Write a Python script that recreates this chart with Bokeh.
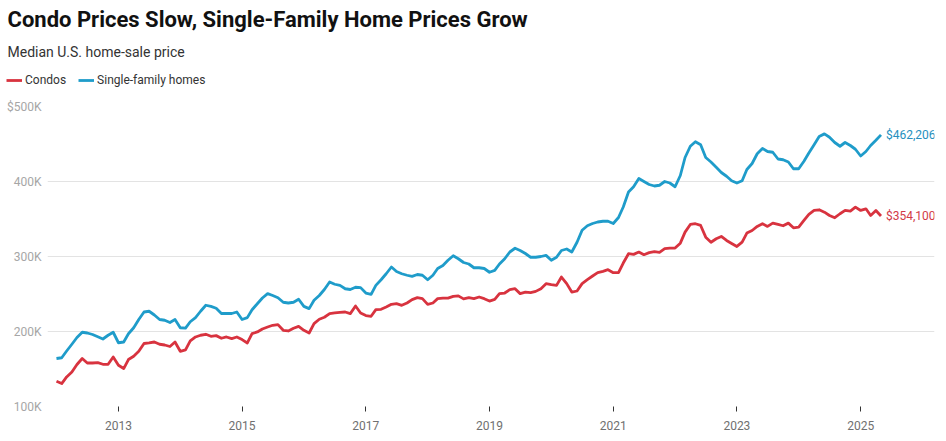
import pandas as pd
from bokeh.plotting import figure
from bokeh.layouts import column
from bokeh.models import (Range1d, FixedTicker, DatetimeTickFormatter, Legend,
                          LegendItem, Label, ColumnDataSource)
from bokeh.embed import file_html
from bokeh.resources import INLINE

# ---- data (monthly median sale price, $K, Jan 2012 .. May 2025) ----
first_month = "2012-01-01"
condos_k = [
    133.7, 130.6, 139.4, 146.0, 156.0, 164.0, 158.0, 158.0, 158.4, 156.3, 156.3, 166.0,
    155.0, 150.6, 162.6, 167.0, 173.6, 184.0, 184.7, 186.0, 183.0, 182.0, 180.0, 186.0,
    173.6, 175.5, 187.4, 192.7, 195.0, 196.3, 193.6, 194.5, 191.0, 192.7, 190.5, 192.7,
    189.2, 184.7, 197.2, 199.4, 203.4, 206.0, 208.3, 209.2, 201.6, 200.7, 204.3, 206.9,
    201.6, 198.0, 210.5, 216.3, 219.0, 223.8, 224.7, 225.6, 226.0, 223.8, 234.0, 224.7,
    221.2, 220.3, 229.1, 229.6, 232.6, 236.2, 237.1, 234.9, 238.0, 242.5, 245.1, 243.8,
    236.2, 238.0, 243.8, 244.6, 244.6, 246.9, 247.5, 243.5, 245.1, 243.8, 246.0, 243.8,
    240.6, 242.9, 250.5, 251.3, 255.8, 257.1, 250.5, 252.6, 251.8, 253.5, 257.1, 263.8,
    262.4, 261.5, 272.6, 263.8, 252.6, 254.0, 263.8, 269.1, 274.0, 278.5, 280.2, 282.4,
    278.4, 278.4, 291.3, 303.7, 302.8, 305.9, 302.4, 305.1, 306.4, 305.5, 310.4, 311.2,
    311.2, 317.8, 332.5, 342.7, 343.7, 341.4, 325.8, 319.0, 323.7, 326.8, 321.4, 317.4,
    313.4, 319.2, 331.2, 334.7, 340.1, 343.7, 340.1, 344.5, 342.7, 341.0, 344.5, 338.3,
    339.2, 348.1, 356.1, 361.4, 362.3, 359.1, 354.7, 351.7, 357.0, 361.4, 360.4, 365.8,
    361.4, 363.6, 354.7, 361.4, 354.1,
]
single_family_k = [
    164.0, 165.0, 174.0, 183.0, 192.0, 199.0, 198.0, 196.0, 193.0, 190.0, 195.0, 199.0,
    185.0, 186.0, 197.0, 205.0, 216.0, 226.0, 227.0, 222.0, 216.0, 215.0, 212.0, 216.0,
    205.0, 204.5, 213.0, 218.5, 227.0, 235.0, 233.5, 231.0, 224.0, 224.0, 224.0, 226.0,
    216.0, 218.5, 229.0, 237.0, 244.6, 250.5, 248.0, 245.0, 239.0, 238.0, 239.0, 243.0,
    233.5, 230.5, 241.6, 248.0, 256.0, 266.0, 263.0, 261.5, 257.0, 256.0, 259.0, 258.5,
    251.3, 249.5, 261.5, 269.0, 277.0, 286.0, 280.0, 277.0, 275.0, 273.5, 276.0, 275.0,
    269.0, 275.0, 284.0, 288.0, 295.0, 301.0, 297.0, 292.0, 290.0, 285.0, 285.0, 284.0,
    279.0, 281.5, 290.0, 297.0, 306.0, 311.0, 308.0, 304.0, 299.0, 299.0, 300.0, 301.5,
    295.0, 299.0, 308.0, 310.0, 306.0, 319.0, 335.0, 341.0, 344.0, 346.0, 347.0, 347.0,
    344.0, 352.0, 366.0, 386.0, 393.0, 404.0, 400.0, 396.0, 394.0, 395.0, 400.0, 398.0,
    393.0, 408.0, 432.0, 447.0, 453.0, 449.0, 432.0, 426.0, 419.0, 412.0, 407.0, 401.0,
    398.0, 401.0, 416.0, 424.0, 437.0, 444.0, 440.0, 439.0, 430.0, 429.0, 426.0, 417.0,
    417.0, 427.0, 438.0, 449.0, 460.0, 463.5, 459.0, 452.0, 447.0, 452.0, 448.0, 443.0,
    434.0, 440.0, 448.0, 455.0, 462.206,
]
series_names = ["Condos", "Single-family homes"]
end_labels = ["$354,100", "$462,206"]
title_text = "Condo Prices Slow, Single-Family Home Prices Grow"
subtitle_text = "Median U.S. home-sale price"
y_ticks = [100000, 200000, 300000, 400000, 500000]
y_tick_labels = ["100K", "200K", "300K", "400K", "$500K"]
x_tick_years = [2013, 2015, 2017, 2019, 2021, 2023, 2025]

RED = "#d8333f"
BLUE = "#1f9cca"
RED_TEXT = "#d23a47"
BLUE_TEXT = "#2690be"
FONT = "Roboto"
W = 946
HEAD_H = 94

dates = pd.date_range(first_month, periods=len(condos_k), freq="MS")
src = ColumnDataSource(dict(
    x=dates,
    condos=[v * 1000 for v in condos_k],
    sf=[v * 1000 for v in single_family_k],
))

# ---------------- header: title, subtitle, legend ----------------
head = figure(width=W, height=HEAD_H, output_backend="svg", toolbar_location=None,
              title=None, x_axis_location=None, y_axis_location=None,
              x_range=Range1d(0, W), y_range=Range1d(0, HEAD_H),
              min_border=0, min_border_left=0, min_border_right=0,
              min_border_top=0, min_border_bottom=0)
head.frame_align = False
head.outline_line_color = None
head.xgrid.visible = False
head.ygrid.visible = False
head.add_layout(Label(x=7, y=HEAD_H - 19, text=title_text, text_baseline="middle",
                      text_font=FONT, text_font_size="22px", text_font_style="bold",
                      text_color="#111111"))
head.add_layout(Label(x=7, y=HEAD_H - 51, text=subtitle_text, text_baseline="middle",
                      text_font=FONT, text_font_size="14px", text_color="#333333"))
# legend keys (the series lie far outside this header's ranges, so only the keys show)
h1 = head.line("x", "condos", source=src, color=RED, line_width=2.8)
h2 = head.line("x", "sf", source=src, color=BLUE, line_width=2.8)
legend = Legend(items=[LegendItem(label=series_names[0], renderers=[h1]),
                       LegendItem(label=series_names[1], renderers=[h2])],
                orientation="horizontal", location=(6, HEAD_H - 87), margin=0, padding=0,
                spacing=12, glyph_width=16, glyph_height=14, label_standoff=3,
                label_height=14, label_text_font=FONT, label_text_font_size="12px",
                label_text_color="#333333", border_line_color=None,
                background_fill_alpha=0)
head.add_layout(legend, "center")

# ---------------- main chart ----------------
p = figure(frame_width=887, frame_height=300, output_backend="svg", toolbar_location=None,
           title=None, x_axis_type="datetime",
           x_range=Range1d(pd.Timestamp("2011-11-09"), pd.Timestamp("2026-03-13")),
           y_range=Range1d(100000, 500000),
           min_border_left=47, min_border_right=12, min_border_bottom=35, min_border_top=12)
p.frame_align = False
p.outline_line_color = None
p.background_fill_color = "white"

r1 = p.line("x", "condos", source=src, color=RED, line_width=2.8, line_join="round")
r2 = p.line("x", "sf", source=src, color=BLUE, line_width=2.8, line_join="round")

p.xgrid.grid_line_color = None
p.ygrid.grid_line_color = "#e3e3e3"
p.ygrid.grid_line_width = 1

p.yaxis.axis_label = None
p.yaxis.ticker = FixedTicker(ticks=y_ticks)
p.yaxis.major_label_overrides = {t: lab for t, lab in zip(y_ticks, y_tick_labels)}
p.yaxis.axis_line_color = None
p.yaxis.major_tick_line_color = None
p.yaxis.major_tick_out = 0
p.yaxis.major_tick_in = 0
p.yaxis.minor_tick_line_color = None
p.yaxis.major_label_standoff = 6
p.yaxis.major_label_text_font = FONT
p.yaxis.major_label_text_font_size = "12px"
p.yaxis.major_label_text_color = "#a6a6a6"

x_ticks = [pd.Timestamp(f"{y}-01-01").value // 10**6 for y in x_tick_years]
p.xaxis.axis_label = None
p.xaxis.ticker = FixedTicker(ticks=x_ticks)
p.xaxis.formatter = DatetimeTickFormatter(years="%Y", months="%Y", days="%Y")
p.xaxis.axis_line_color = None
p.xaxis.major_tick_line_color = "#333333"
p.xaxis.major_tick_out = 5
p.xaxis.major_tick_in = 0
p.xaxis.minor_tick_line_color = None
p.xaxis.major_label_standoff = 9
p.xaxis.major_label_text_font = FONT
p.xaxis.major_label_text_font_size = "12px"
p.xaxis.major_label_text_color = "#707070"

for col, txt, c in [("condos", end_labels[0], RED_TEXT), ("sf", end_labels[1], BLUE_TEXT)]:
    p.add_layout(Label(x=dates[-1], y=src.data[col][-1], text=txt, x_offset=5,
                       text_baseline="middle", text_align="left", text_color=c,
                       text_font=FONT, text_font_size="12px"))

layout = column(head, p, spacing=0)
open("out.html", "w").write(file_html(layout, INLINE))
